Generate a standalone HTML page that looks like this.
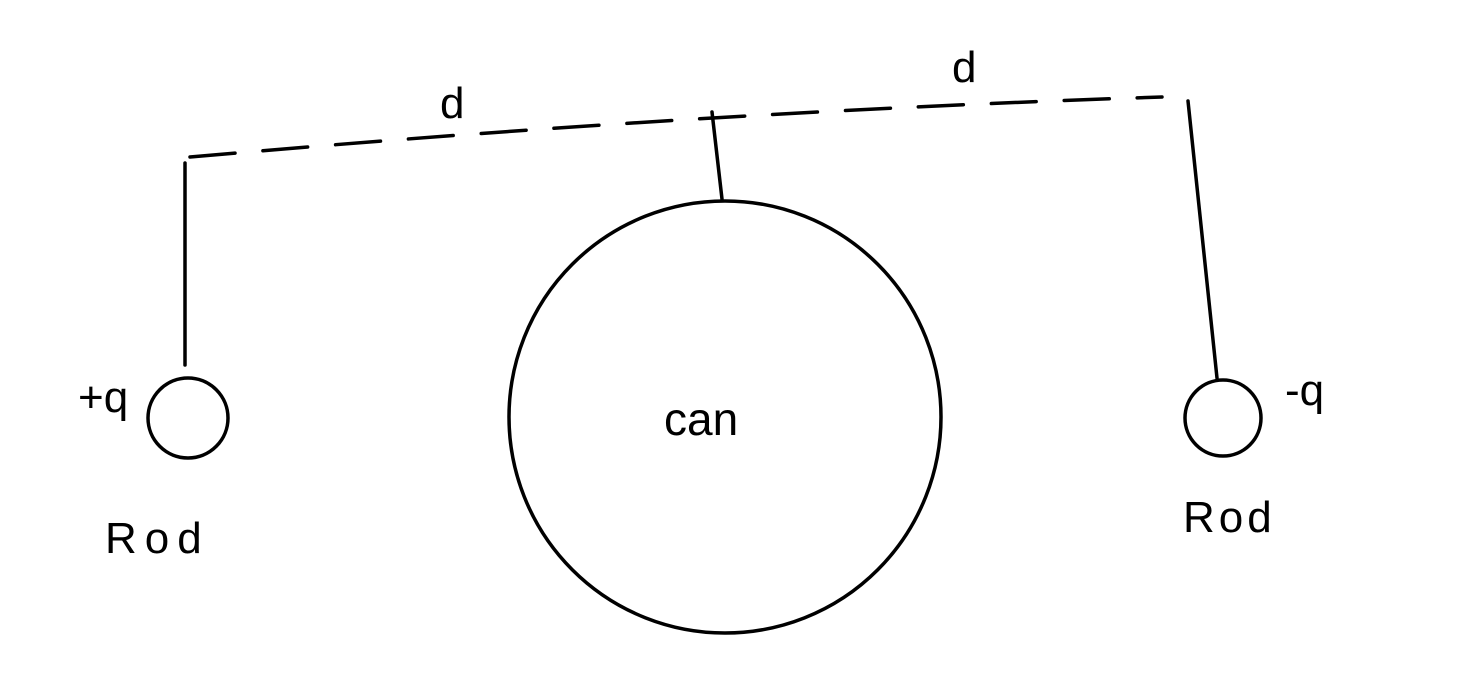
<!DOCTYPE html>
<html>
<head>
<meta charset="utf-8">
<style>
  html,body{margin:0;padding:0;background:#fff;}
  svg{display:block;}
  text{font-family:"Liberation Sans",sans-serif;fill:#000;}
</style>
</head>
<body>
<svg width="1458" height="700" viewBox="0 0 1458 700" xmlns="http://www.w3.org/2000/svg">
  <g fill="none" stroke="#000" stroke-width="3.5" stroke-linecap="round">
    <path d="M190 157 Q 700 112 1162 97" stroke-dasharray="45 28"/>
    <line x1="712" y1="112" x2="722" y2="199"/>
    <circle cx="725" cy="417" r="216"/>
    <line x1="185" y1="163" x2="185" y2="365"/>
    <circle cx="188" cy="418" r="40"/>
    <line x1="1188" y1="101" x2="1217" y2="378"/>
    <circle cx="1223" cy="418" r="38"/>
  </g>
  <text x="440" y="118" font-size="44">d</text>
  <text x="952" y="82" font-size="44">d</text>
  <text x="664" y="435" font-size="46" font-weight="300">can</text>
  <text x="78" y="412" font-size="44">+q</text>
  <text x="1285" y="405" font-size="44">-q</text>
  <text x="105" y="553" font-size="44" letter-spacing="8">Rod</text>
  <text x="1183" y="532" font-size="44" letter-spacing="4">Rod</text>
</svg>
</body>
</html>
